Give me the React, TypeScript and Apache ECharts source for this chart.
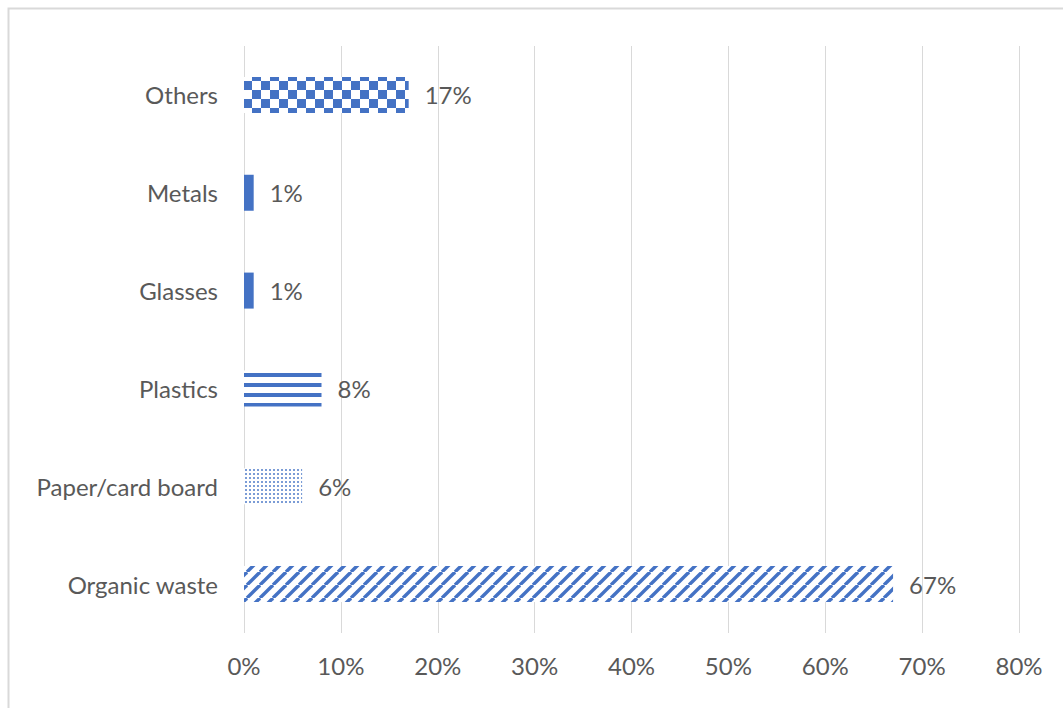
import React, { useEffect, useRef } from "react";
import * as echarts from "echarts";

const categories = ["Organic waste", "Paper/card board", "Plastics", "Glasses", "Metals", "Others"];
const values = [67, 6, 8, 1, 1, 17];
const patterns = ["diagonal", "dots", "hstripes", "solid", "solid", "checker"];
const xTicks = [0, 10, 20, 30, 40, 50, 60, 70, 80];

const BLUE = "#4472C4";
const TEXT = "#595959";
const FONT = "Lato";

function makeTile(kind: string): string {
  const c = document.createElement("canvas");
  const ctx = c.getContext("2d")!;
  if (kind === "checker") {
    c.width = 18; c.height = 18;
    ctx.fillStyle = "#ffffff"; ctx.fillRect(0, 0, 18, 18);
    ctx.fillStyle = BLUE;
    ctx.fillRect(0, 0, 9, 9);
    ctx.fillRect(9, 9, 9, 9);
  } else if (kind === "hstripes") {
    c.width = 10; c.height = 10;
    ctx.fillStyle = "#ffffff"; ctx.fillRect(0, 0, 10, 10);
    ctx.fillStyle = BLUE;
    ctx.fillRect(0, 3, 10, 4);
  } else if (kind === "dots") {
    c.width = 4; c.height = 4;
    ctx.fillStyle = "#ffffff"; ctx.fillRect(0, 0, 4, 4);
    ctx.fillStyle = "#4f7bc9";
    ctx.beginPath(); ctx.arc(2, 2, 1.0, 0, Math.PI * 2); ctx.fill();
  } else if (kind === "diagonal") {
    const s = 13;
    c.width = s; c.height = s;
    ctx.fillStyle = "#ffffff"; ctx.fillRect(0, 0, s, s);
    ctx.strokeStyle = BLUE; ctx.lineWidth = 3.4;
    for (const off of [-s, 0, s]) {
      ctx.beginPath();
      ctx.moveTo(off, s);
      ctx.lineTo(off + s, 0);
      ctx.stroke();
    }
  }
  return c.toDataURL();
}

export default function App() {
  const ref = useRef<HTMLDivElement>(null);
  useEffect(() => {
    const chart = echarts.init(ref.current!, undefined, { renderer: "svg" });
    const data = values.map((v, i) => {
      const kind = patterns[i];
      const color = kind === "solid" ? BLUE : { image: makeTile(kind), repeat: "repeat" };
      return { value: v, itemStyle: { color } };
    });
    chart.setOption({
      animation: false,
      backgroundColor: "#ffffff",
      textStyle: { fontFamily: FONT },
      graphic: [
        {
          type: "rect",
          shape: { x: 8.5, y: 8.5, width: 1200, height: 900 },
          style: { fill: "none", stroke: "#d9d9d9", lineWidth: 2 },
          silent: true,
        },
      ],
      grid: { left: 244, right: 44, top: 46, bottom: 75, containLabel: false },
      xAxis: {
        type: "value",
        min: 0,
        max: 80,
        interval: 10,
        axisLine: { show: false },
        axisTick: { show: false },
        splitLine: { show: true, lineStyle: { color: "#d9d9d9", width: 1 } },
        axisLabel: {
          color: TEXT,
          fontSize: 24,
          fontFamily: FONT,
          margin: 20,
          formatter: (v: number) => (xTicks.includes(v) ? `${v}%` : ""),
        },
      },
      yAxis: {
        type: "category",
        data: categories,
        axisLine: { show: false },
        axisTick: { show: false },
        axisLabel: { color: TEXT, fontSize: 24, fontFamily: FONT, margin: 26 },
      },
      series: [
        {
          type: "bar",
          data,
          barWidth: 36,
          label: {
            show: true,
            position: "right",
            distance: 16,
            color: TEXT,
            fontSize: 24,
            fontFamily: FONT,
            formatter: (p: any) => `${p.value}%`,
          },
        },
      ],
    });
    return () => chart.dispose();
  }, []);
  return (
    <div
      ref={ref}
      style={{ position: "fixed", left: 0, top: 0, width: 1063, height: 708, background: "#fff" }}
    />
  );
}
